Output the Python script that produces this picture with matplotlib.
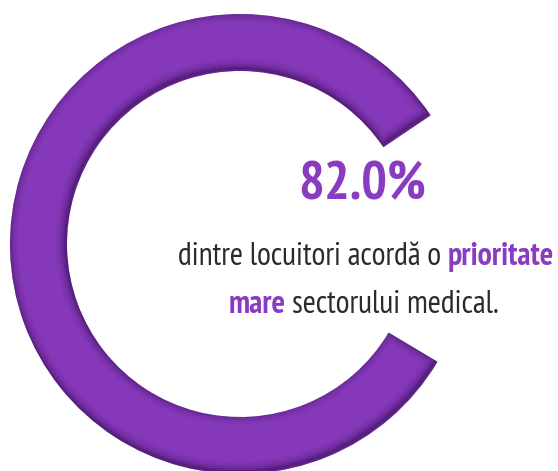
import matplotlib
matplotlib.use("Agg")
import matplotlib.pyplot as plt
from matplotlib.patches import Wedge
from matplotlib import transforms

# ---- data ----
value = 82.0
headline = f"{value:.1f}%"
line1_parts = [("dintre locuitori acordă o", "normal"), ("prioritate", "bold")]
line2_parts = [("mare", "bold"), ("sectorului medical.", "normal")]

PURPLE = "#8538BA"
TEXT_PURPLE = "#8A3CC0"
DARK = "#2B2B2B"
SHADOW = "#2A0A40"
FONT = ["PT Sans Narrow", "DejaVu Sans"]

W, H = 558, 471
fig = plt.figure(figsize=(W / 100, H / 100), dpi=100)
ax = fig.add_axes([0, 0, 1, 1])
ax.set_xlim(0, W)
ax.set_ylim(0, H)
ax.set_aspect("equal")
ax.axis("off")

# ---- ring ----
cx, cy = 240, H - 244
r_out, width = 230, 57
start = 34
span = value / 100 * 360
ring = Wedge((cx, cy), r_out, start, start + span, width=width,
             facecolor=PURPLE, edgecolor="none")
ax.add_patch(ring)

# inset shadow: strokes of the outline clipped to the ring, shifted slightly up-left
off = transforms.ScaledTranslation(-1.5 / 100, 2.5 / 100, fig.dpi_scale_trans)
for lw_px, a in [(20, 0.05), (15, 0.06), (11, 0.08), (8, 0.10), (5, 0.13), (2.5, 0.22)]:
    s = Wedge((cx, cy), r_out, start, start + span, width=width,
              facecolor="none", edgecolor=SHADOW, linewidth=lw_px * 0.72,
              alpha=a, transform=ax.transData + off, joinstyle="miter")
    ax.add_patch(s)
    s.set_clip_path(ring)

renderer = fig.canvas.get_renderer()


def text_width(t, size, weight):
    tx = ax.text(0, 0, t, fontsize=size, fontweight=weight, family=FONT)
    w = tx.get_window_extent(renderer).width
    tx.remove()
    return w


def fit_size(parts, target, base=20.0):
    sp = text_width("a a", base, "normal") - text_width("aa", base, "normal")
    tot = sum(text_width(t, base, wt) for t, wt in parts) + sp * (len(parts) - 1)
    return base * target / tot


def draw_line(parts, xc, yb, size):
    sp = text_width("a a", size, "normal") - text_width("aa", size, "normal")
    ws = [text_width(t, size, wt) for t, wt in parts]
    total = sum(ws) + sp * (len(parts) - 1)
    x = xc - total / 2
    for (t, wt), w in zip(parts, ws):
        col = TEXT_PURPLE if wt == "bold" else DARK
        ax.text(x, yb, t, fontsize=size, fontweight=wt, color=col, family=FONT,
                ha="left", va="baseline")
        x += w + sp


# headline
hs = fit_size([(headline, "bold")], 128, 30)
ax.text(362, H - 199, headline, fontsize=hs, fontweight="bold", color=TEXT_PURPLE,
        family=FONT, ha="center", va="baseline")

# sentence
ts = fit_size(line1_parts, 378, 20)
draw_line(line1_parts, 366, H - 265, ts)
draw_line(line2_parts, 364, H - 313, ts)

fig.savefig("out.png", dpi=100)
